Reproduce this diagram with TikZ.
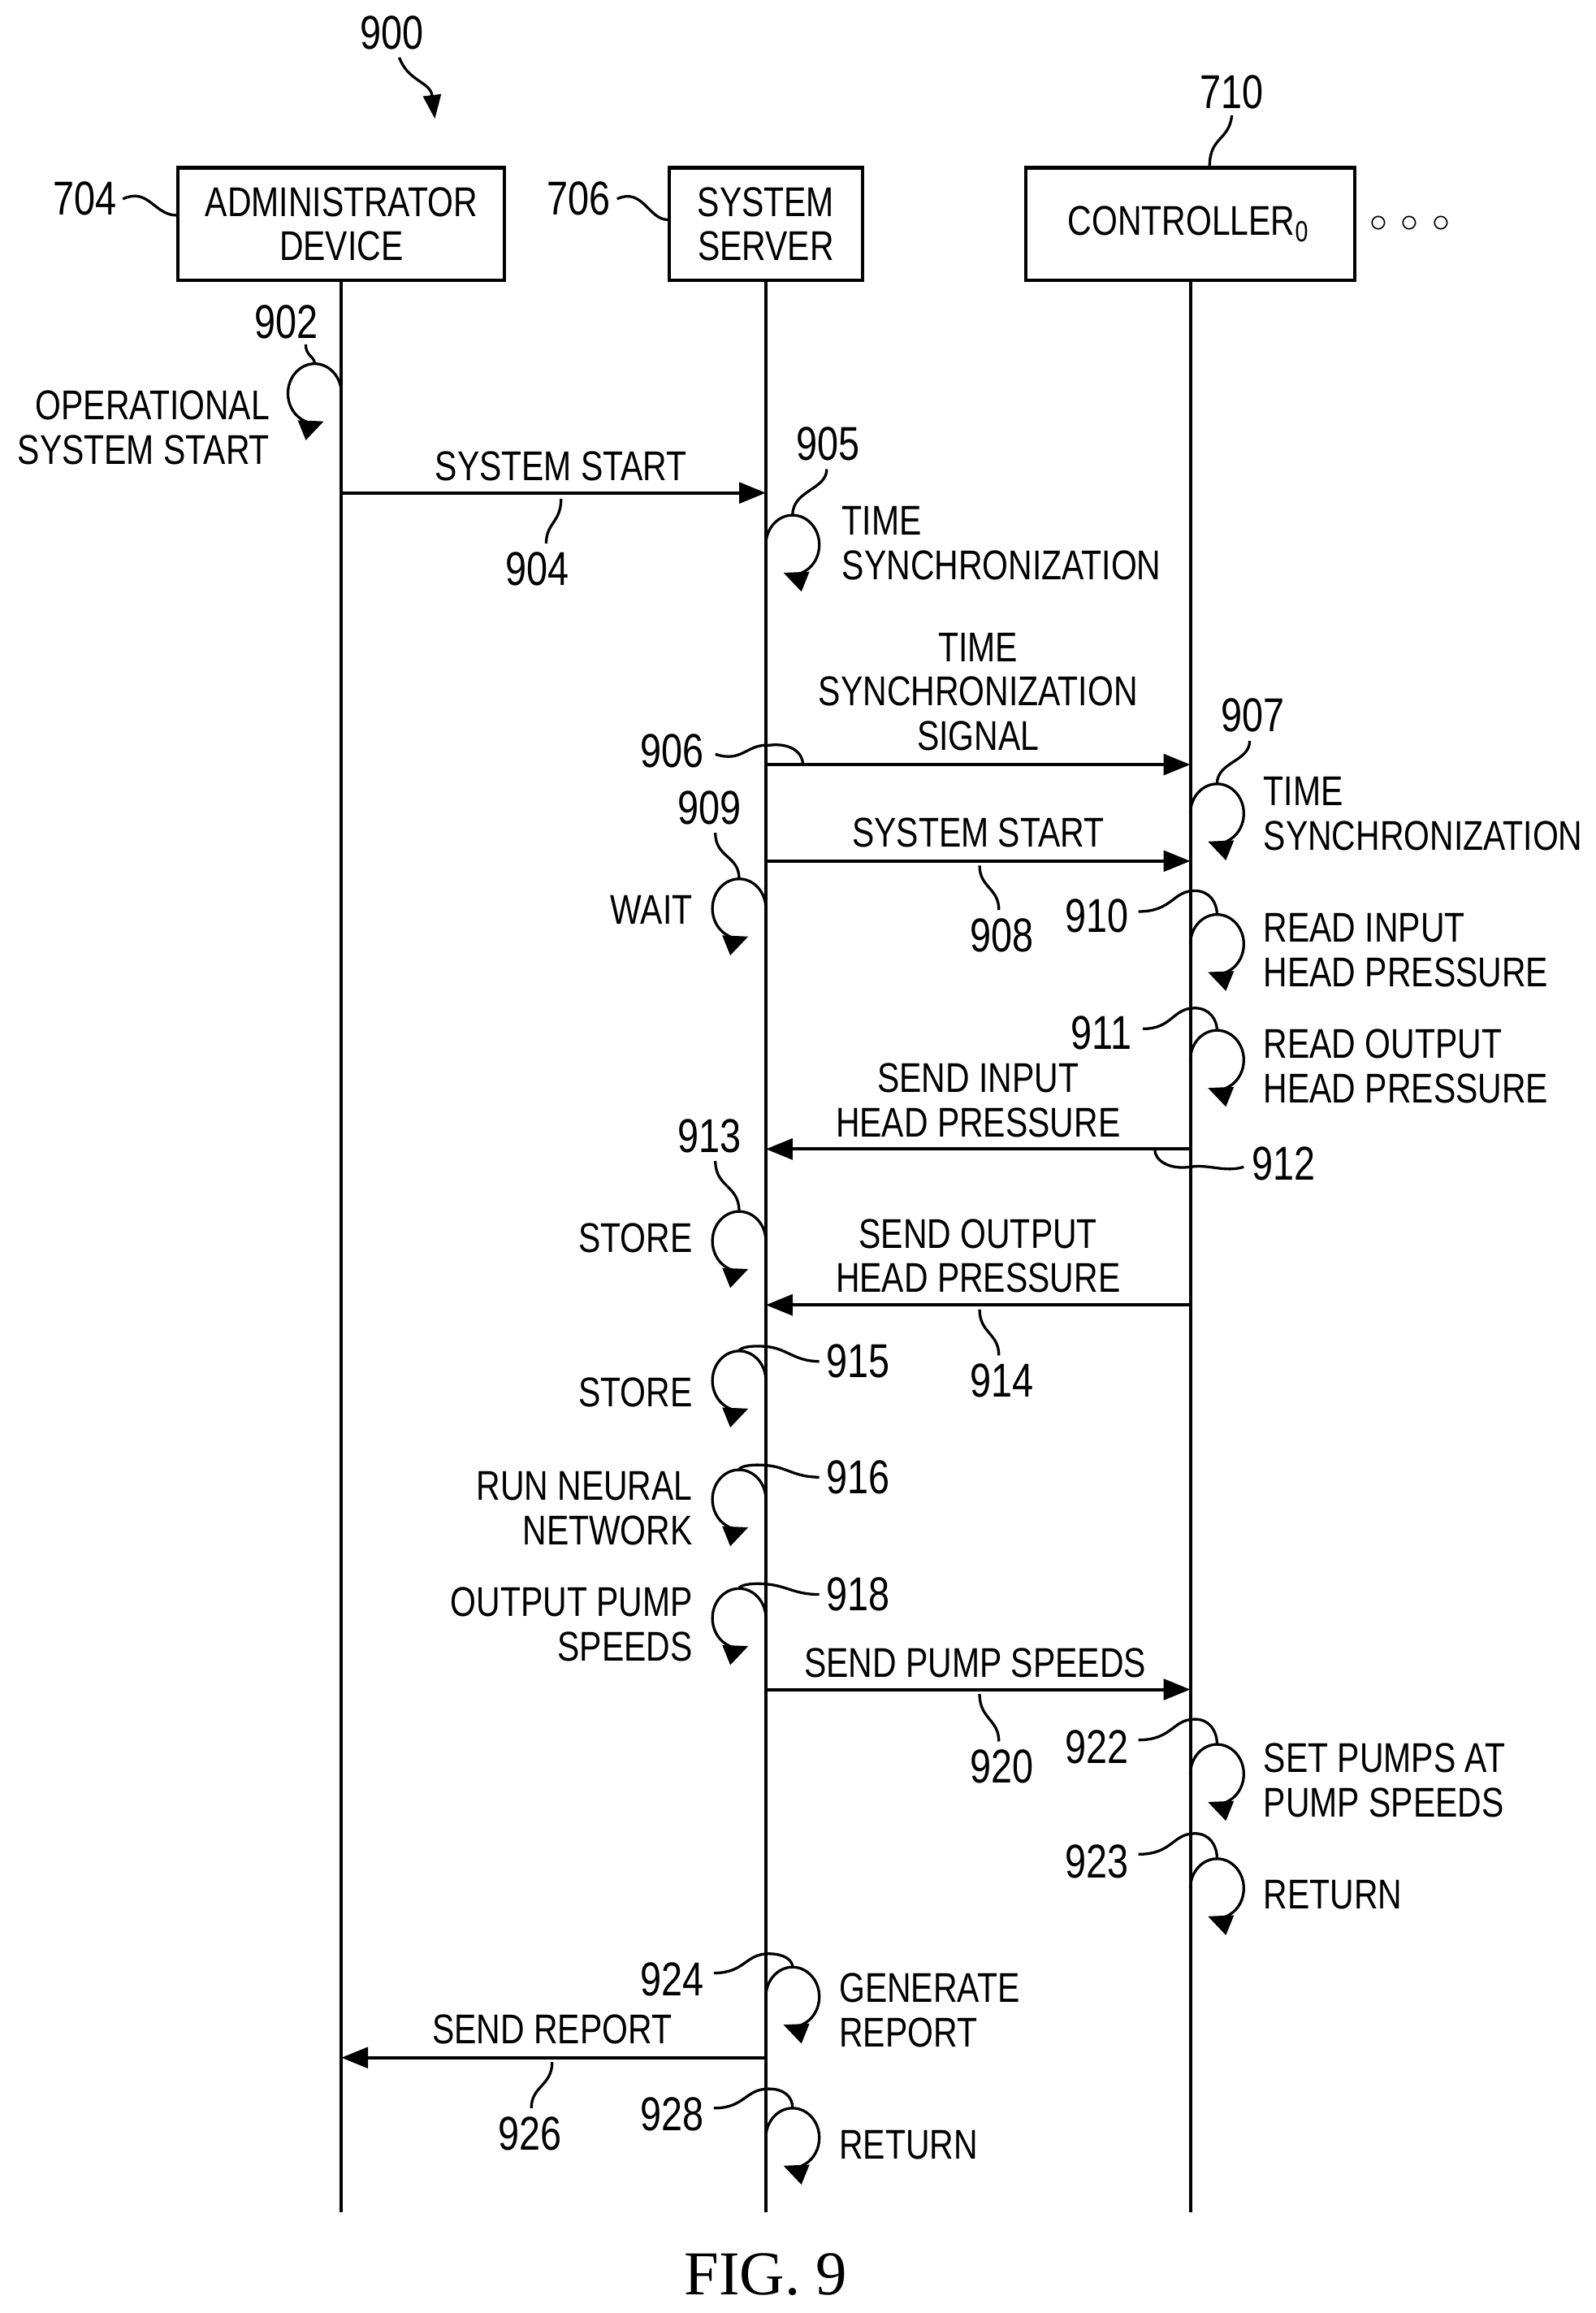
\documentclass[tikz,border=0pt]{standalone}
\usepackage{fontspec}
\setmainfont{Liberation Sans}[FakeStretch=0.8]
\newfontfamily\figfont{Liberation Serif}
\usetikzlibrary{arrows.meta}
\tikzset{
  lbl/.style={font=\fontsize{14}{15}\selectfont, inner sep=0pt, align=left},
  num/.style={font=\fontsize{16}{17}\selectfont, inner sep=0pt},
  box/.style={draw, line width=1.1pt, minimum height=38pt, font=\fontsize{14}{15}\selectfont, align=center},
  life/.style={line width=1.1pt},
  msg/.style={line width=1.1pt, -{Triangle[length=9pt,width=7pt]}},
  lead/.style={line width=0.9pt},
}
\newcommand{\rloop}[2]{\draw[lead,-{Triangle[length=8pt,width=7pt]}] (#1,-#2) arc[start angle=180,end angle=-110,x radius=18,y radius=20];}
\newcommand{\lloop}[2]{\draw[lead,-{Triangle[length=8pt,width=7pt]}] (#1,-#2) arc[start angle=0,end angle=290,x radius=18,y radius=20];}
\begin{document}
\begin{tikzpicture}[x=0.5pt,y=0.5pt]
  \useasboundingbox (0,0) rectangle (1075,-1558);
  % participants
  \node[box, minimum width=110pt] (adm) at (230,-151) {ADMINISTRATOR\\DEVICE};
  \node[box, minimum width=65pt] (srv) at (516,-151) {SYSTEM\\SERVER};
  \node[box, minimum width=111pt] (ctl) at (802,-151) {CONTROLLER$_{\mathrm{0}}$};
  \node[lbl] (dots) at (950,-151) {\fontsize{12}{12}\selectfont$\circ\,\circ\,\circ$};
  \coordinate (admEnd) at (230,-1490);
  \coordinate (srvEnd) at (516,-1490);
  \coordinate (ctlEnd) at (802,-1490);
  \draw[life] (adm) -- (admEnd);
  \draw[life] (srv) -- (srvEnd);
  \draw[life] (ctl) -- (ctlEnd);
  % reference numerals of the participants
  \node[num] (n900) at (264,-22) {900};
  \draw[lead,-{Triangle[length=8pt,width=6pt]}] (n900.south) ++(5,-5) .. controls (275,-55) and (290,-55) .. (293,-80);
  \node[num] (n704) at (57,-134) {704};
  \draw[lead] (n704.east) ++(4,0) .. controls (100,-126) and (104,-145) .. (adm.west |- 0,-145);
  \node[num] (n706) at (390,-134) {706};
  \draw[lead] (n706.east) ++(4,0) .. controls (433,-126) and (437,-148) .. (srv.west |- 0,-148);
  \node[num] (n710) at (830,-62) {710};
  \draw[lead] (n710.south) ++(0,-4) .. controls (828,-95) and (815,-92) .. (ctl.north -| 815,0);
  % 902
  \lloop{230}{265}
  \node[num] (n902) at (193,-217) {902};
  \draw[lead] (206,-232) .. controls (206,-240) and (212,-240) .. (212,-245);
  \node[lbl, align=right, anchor=east] (t902) at (182,-288) {OPERATIONAL\\SYSTEM START};
  % 904
  \coordinate (a904) at (230,-332); \coordinate (b904) at (516,-332);
  \draw[msg] (a904) -- (b904);
  \node[lbl] (t904) at (378,-314) {SYSTEM START};
  \node[num] (n904) at (362,-383) {904};
  \draw[lead] (368,-366) .. controls (368,-352) and (378,-352) .. (378,-336);
  % 905
  \rloop{516}{367}
  \node[num] (n905) at (558,-299) {905};
  \draw[lead] (557,-316) .. controls (557,-330) and (534,-330) .. (534,-347);
  \node[lbl, anchor=west] (t905) at (567,-366) {TIME\\SYNCHRONIZATION};
  % 906
  \coordinate (a906) at (516,-515); \coordinate (b906) at (802,-515);
  \draw[msg] (a906) -- (b906);
  \node[lbl, align=center] (t906) at (659,-466) {TIME\\SYNCHRONIZATION\\SIGNAL};
  \node[num] (n906) at (453,-506) {906};
  \draw[lead] (482,-508) .. controls (500,-514) and (503,-501) .. (518,-502) .. controls (534,-500) and (541,-508) .. (541,-515);
  % 907
  \rloop{802}{548}
  \node[num] (n907) at (844,-482) {907};
  \draw[lead] (842,-499) .. controls (842,-513) and (820,-513) .. (820,-528);
  \node[lbl, anchor=west] (t907) at (851,-548) {TIME\\SYNCHRONIZATION};
  % 908
  \coordinate (a908) at (516,-580); \coordinate (b908) at (802,-580);
  \draw[msg] (a908) -- (b908);
  \node[lbl] (t908) at (659,-561) {SYSTEM START};
  \node[num] (n908) at (675,-630) {908};
  \draw[lead] (673,-613) .. controls (673,-598) and (660,-598) .. (660,-583);
  % 909
  \lloop{516}{612}
  \node[num] (n909) at (478,-544) {909};
  \draw[lead] (482,-561) .. controls (482,-578) and (498,-576) .. (498,-592);
  \node[lbl, anchor=east] (t909) at (467,-613) {WAIT};
  % 910
  \rloop{802}{636}
  \node[num] (n910) at (739,-617) {910};
  \draw[lead] (767,-614) .. controls (790,-614) and (790,-600) .. (805,-600) .. controls (815,-600) and (820,-608) .. (820,-616);
  \node[lbl, anchor=west] (t910) at (851,-640) {READ INPUT\\HEAD PRESSURE};
  % 911
  \rloop{802}{714}
  \node[num] (n911) at (742,-696) {911};
  \draw[lead] (770,-693) .. controls (790,-693) and (790,-679) .. (805,-679) .. controls (815,-679) and (820,-687) .. (820,-694);
  \node[lbl, anchor=west] (t911) at (851,-718) {READ OUTPUT\\HEAD PRESSURE};
  % 912
  \coordinate (a912) at (802,-774); \coordinate (b912) at (516,-774);
  \draw[msg] (a912) -- (b912);
  \node[lbl, align=center] (t912) at (659,-741) {SEND INPUT\\HEAD PRESSURE};
  \node[num] (n912) at (865,-784) {912};
  \draw[lead] (778,-774) .. controls (778,-782) and (788,-788) .. (802,-786) .. controls (815,-784) and (825,-790) .. (838,-786);
  % 913
  \lloop{516}{836}
  \node[num] (n913) at (478,-765) {913};
  \draw[lead] (482,-782) .. controls (482,-800) and (498,-798) .. (498,-816);
  \node[lbl, anchor=east] (t913) at (467,-834) {STORE};
  % 914
  \coordinate (a914) at (802,-879); \coordinate (b914) at (516,-879);
  \draw[msg] (a914) -- (b914);
  \node[lbl, align=center] (t914) at (659,-846) {SEND OUTPUT\\HEAD PRESSURE};
  \node[num] (n914) at (675,-930) {914};
  \draw[lead] (673,-913) .. controls (673,-898) and (660,-898) .. (660,-882);
  % 915, 916, 918
  \foreach \yc/\yn/\nn in {930/917/915, 1010/995/916, 1090/1074/918}{
    \lloop{516}{\yc}
    \node[num] at (578,-\yn) {\nn};
    \draw[lead] (552,-\yn) .. controls (535,-\yn) and (530,-\yc+22) .. (516,-\yc+23) .. controls (505,-\yc+24) and (498,-\yc+22) .. (498,-\yc+20);
  }
  \node[lbl, anchor=east] (t915) at (467,-938) {STORE};
  \node[lbl, align=right, anchor=east] (t916) at (467,-1016) {RUN NEURAL\\NETWORK};
  \node[lbl, align=right, anchor=east] (t918) at (467,-1094) {OUTPUT PUMP\\SPEEDS};
  % 920
  \coordinate (a920) at (516,-1138); \coordinate (b920) at (802,-1138);
  \draw[msg] (a920) -- (b920);
  \node[lbl] (t920) at (657,-1120) {SEND PUMP SPEEDS};
  \node[num] (n920) at (675,-1190) {920};
  \draw[lead] (673,-1173) .. controls (673,-1158) and (660,-1158) .. (660,-1141);
  % 922, 923
  \rloop{802}{1195}
  \node[num] (n922) at (739,-1177) {922};
  \draw[lead] (767,-1172) .. controls (790,-1172) and (790,-1158) .. (805,-1158) .. controls (815,-1158) and (820,-1166) .. (820,-1175);
  \node[lbl, anchor=west] (t922) at (851,-1199) {SET PUMPS AT\\PUMP SPEEDS};
  \rloop{802}{1272}
  \node[num] (n923) at (739,-1254) {923};
  \draw[lead] (767,-1249) .. controls (790,-1249) and (790,-1235) .. (805,-1235) .. controls (815,-1235) and (820,-1243) .. (820,-1252);
  \node[lbl, anchor=west] (t923) at (851,-1276) {RETURN};
  % 924
  \rloop{516}{1345}
  \node[num] (n924) at (453,-1333) {924};
  \draw[lead] (481,-1329) .. controls (502,-1329) and (502,-1316) .. (518,-1316) .. controls (528,-1316) and (534,-1320) .. (534,-1325);
  \node[lbl, anchor=west] (t924) at (565,-1354) {GENERATE\\REPORT};
  % 926
  \coordinate (a926) at (516,-1386); \coordinate (b926) at (230,-1386);
  \draw[msg] (a926) -- (b926);
  \node[lbl] (t926) at (372,-1367) {SEND REPORT};
  \node[num] (n926) at (357,-1437) {926};
  \draw[lead] (358,-1420) .. controls (358,-1405) and (372,-1405) .. (372,-1389);
  % 928
  \rloop{516}{1440}
  \node[num] (n928) at (453,-1424) {928};
  \draw[lead] (481,-1420) .. controls (502,-1420) and (502,-1407) .. (518,-1407) .. controls (528,-1407) and (534,-1412) .. (534,-1420);
  \node[lbl, anchor=west] (t928) at (565,-1445) {RETURN};
  % caption
  \node[font=\figfont\fontsize{21}{22}\selectfont] (fig) at (516,-1532) {FIG. 9};
\end{tikzpicture}
\end{document}
